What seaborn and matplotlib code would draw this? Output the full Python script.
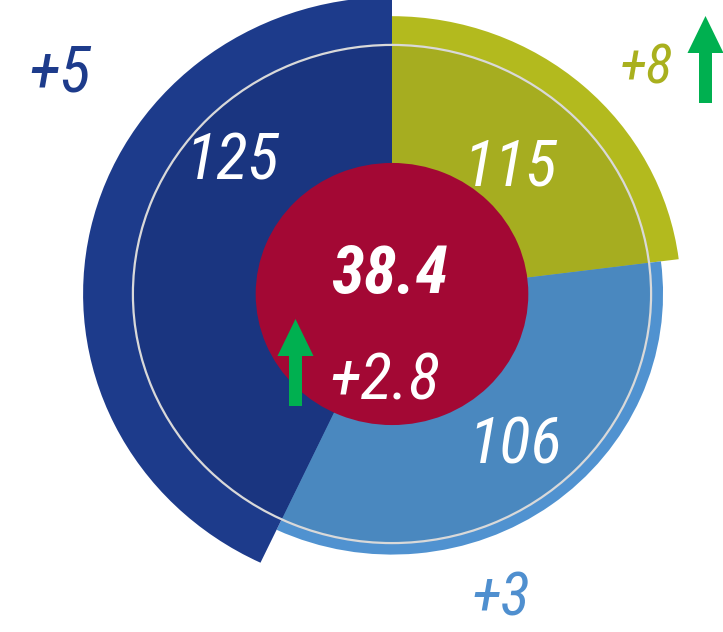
import numpy as np
import matplotlib
matplotlib.use("Agg")
import matplotlib.pyplot as plt
import seaborn as sns
from matplotlib.patches import FancyArrow

# ---- data ----
segments = ["Olive", "Light blue", "Dark blue"]
values = [115, 106, 125]
shares = [23, 34, 43]           # share of the circle, percent
changes = ["+8", "+3", "+5"]
center_value = 38.4
center_change = "+2.8"
reference = 100

outer_colors = ["#B3BA1E", "#5092D0", "#1D3B8B"]
inner_colors = ["#A6AD20", "#4A88BF", "#1A3580"]
label_colors = ["#A9B01E", "#4F8FCF", "#1D3B8B"]
red = "#A30834"
green = "#00B050"

sns.set_theme(style="white")
plt.rcParams['font.family'] = ['Roboto Condensed', 'Liberation Sans', 'DejaVu Sans']

W, H, DPI = 723, 632, 100
fig = plt.figure(figsize=(W / DPI, H / DPI), dpi=DPI)
fig.patch.set_facecolor("white")

cx, cy = 392, 294
rmin, rmax = -30, 130
sy, sx = 1.916, 1.993
half_w = (rmax - rmin) * sx
half_h = (rmax - rmin) * sy
ax = fig.add_axes([(cx - half_w) / W, (H - cy - half_h) / H, 2 * half_w / W, 2 * half_h / H],
                  projection='polar')
ax.set_aspect('auto')
ax.set_theta_zero_location('N')
ax.set_theta_direction(-1)
ax.set_facecolor('none')

fracs = np.array(shares) / sum(shares)
widths = 2 * np.pi * fracs
starts = np.concatenate([[0], np.cumsum(widths)[:-1]])
centers = starts + widths / 2

ax.bar(centers, values, width=widths, color=outer_colors, linewidth=0, align='center')
ax.bar(centers, [reference] * len(values), width=widths, color=inner_colors, linewidth=0, align='center')
ax.bar(0, center_value - rmin, width=2 * np.pi, bottom=rmin, color=red, linewidth=0)

ax.set_ylim(rmin, rmax)
ax.set_rticks([reference])
ax.set_yticklabels([])
ax.set_xticks([])
ax.set_axisbelow(False)
ax.yaxis.grid(True, color="#D9D9D9", linewidth=1.6)
ax.xaxis.grid(False)
ax.spines['polar'].set_visible(False)

def ftext(x, y, s, **kw):
    fig.text(x / W, 1 - y / H, s, ha='center', va='baseline', style='italic', **kw)

ftext(510, 185, str(values[0]), color='white', fontsize=47)
ftext(515, 463, str(values[1]), color='white', fontsize=47)
ftext(232, 180, str(values[2]), color='white', fontsize=47)
ftext(646, 83, changes[0], color=label_colors[0], fontsize=40)
ftext(501, 615, changes[1], color=label_colors[1], fontsize=44)
ftext(60, 92, changes[2], color=label_colors[2], fontsize=47)
ftext(390, 293, f"{center_value}", color='white', fontsize=48, fontweight='bold')
ftext(385, 400, center_change, color='white', fontsize=47)

def arrow(xc, ybot, ytop):
    fig.add_artist(FancyArrow(xc / DPI, (H - ybot) / DPI, 0, (ybot - ytop) / DPI,
                              width=0.13, head_width=0.36, head_length=0.37,
                              length_includes_head=True, color=green, linewidth=0,
                              transform=fig.dpi_scale_trans))

arrow(705.5, 103, 16)
arrow(295.5, 406, 319)

fig.savefig("out.png", dpi=DPI)
